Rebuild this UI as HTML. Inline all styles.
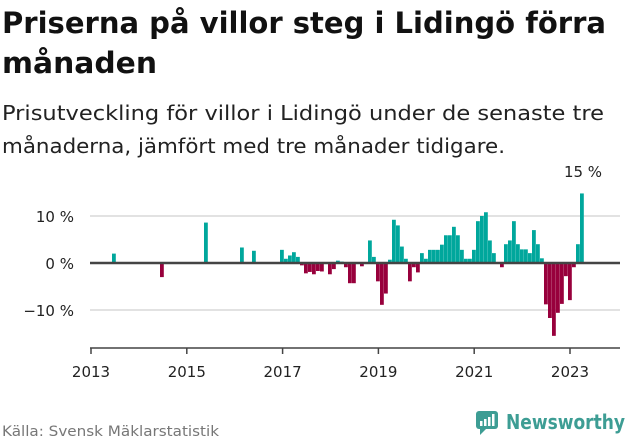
<!DOCTYPE html>
<html><head><meta charset="utf-8"><style>
body{margin:0;width:631px;height:439px;overflow:hidden;background:#fff;font-family:"DejaVu Sans","Liberation Sans",sans-serif;}
svg{position:absolute;left:0;top:0}
</style></head><body>
<svg width="631" height="439">
<text x="2" y="33" font-size="29" font-weight="bold" fill="#111" textLength="604" lengthAdjust="spacingAndGlyphs">Priserna på villor steg i Lidingö förra</text>
<text x="2" y="73" font-size="29" font-weight="bold" fill="#111" textLength="155" lengthAdjust="spacingAndGlyphs">månaden</text>
<text x="2" y="120" font-size="20" fill="#222" textLength="602" lengthAdjust="spacingAndGlyphs">Prisutveckling för villor i Lidingö under de senaste tre</text>
<text x="2" y="153" font-size="20" fill="#222" textLength="503" lengthAdjust="spacingAndGlyphs">månaderna, jämfört med tre månader tidigare.</text>
<g id="grid"></g>
<g id="bars"></g>
<g id="axis"></g>
<text x="583" y="177" font-size="15" fill="#222" text-anchor="middle">15 %</text>
<text x="2" y="436" font-size="14" fill="#777" textLength="217" lengthAdjust="spacingAndGlyphs">Källa: Svensk Mäklarstatistik</text>
<g>
<rect x="476" y="411" width="22" height="18" rx="3" fill="#3d9d94"/>
<polygon points="480,429 486,429 480,435" fill="#3d9d94"/>
<rect x="480" y="421" width="2.5" height="5" fill="#fff"/><rect x="484" y="419" width="2.5" height="7" fill="#fff"/><rect x="488" y="417" width="2.5" height="9" fill="#fff"/><rect x="492" y="414" width="2.5" height="12" fill="#fff"/>
<text x="506" y="429" font-size="20" font-weight="bold" fill="#3d9d94" textLength="119" lengthAdjust="spacingAndGlyphs">Newsworthy</text>
</g>
</svg>
<script>
const months=[6,18,29,38,41,48,49,50,51,52,53,54,55,56,57,58,60,61,62,63,64,65,66,68,70,71,72,73,74,75,76,77,78,79,80,81,82,83,84,85,86,87,88,89,90,91,92,93,94,95,96,97,98,99,100,101,103,104,105,106,107,108,109,110,111,112,113,114,115,116,117,118,119,120,121,122,123];
const values=[2.0,-3.0,8.6,3.3,2.6,2.8,0.9,1.6,2.3,1.3,-0.5,-2.2,-1.9,-2.4,-1.7,-1.8,-2.4,-1.3,0.5,0.3,-0.9,-4.3,-4.3,-0.7,4.8,1.3,-3.9,-8.9,-6.5,0.7,9.2,8.0,3.5,0.9,-3.9,-0.9,-2.0,2.1,0.9,2.8,2.8,2.8,3.9,5.9,5.9,7.7,5.9,2.8,0.9,0.9,2.8,8.9,10.0,10.8,4.8,2.1,-0.9,4.0,4.8,8.9,4.0,2.9,2.9,2.1,7.0,4.0,1.0,-8.8,-11.7,-15.5,-10.6,-8.7,-2.8,-7.9,-0.9,4.0,14.8];
const yTicks=[-10,0,10];
const yTickLabels=["−10 %","0 %","10 %"];
const xYears=[2013,2015,2017,2019,2021,2023];
const NS="http://www.w3.org/2000/svg";
function X(m){return 88+4*m;}
function xYear(y){return 91+(y-2013)*47.9;}
function Y(v){return 263-4.7*v;}
function mk(t,a,p){const e=document.createElementNS(NS,t);for(const k in a)e.setAttribute(k,a[k]);p.appendChild(e);return e;}
const grid=document.getElementById('grid'),bars=document.getElementById('bars'),axis=document.getElementById('axis');
yTicks.forEach((t,i)=>{
 if(t!==0){const l=mk('line',{x1:90,x2:620,y1:Y(t),y2:Y(t),stroke:'#e2e2e2','stroke-width':2},grid);
 
 }
 const tx=mk('text',{x:74,y:Y(t)+6,'font-size':15,fill:'#222','text-anchor':'end'},grid);
 tx.textContent=yTickLabels[i];
 
 
});
months.forEach((m,i)=>{
 const v=values[i];
 const r=mk('rect',{x:X(m),width:3.8,y:Math.min(Y(v),Y(0)),height:Math.abs(Y(v)-Y(0)),fill:v>=0?'#00a79c':'#98003c'},bars);
 
 
});
const z=mk('line',{x1:90,x2:620,y1:Y(0),y2:Y(0),stroke:'#444','stroke-width':2.5},axis);


const xa=mk('line',{x1:90,x2:620,y1:348,y2:348,stroke:'#444','stroke-width':1.5},axis);


xYears.forEach(y=>{
 const t=mk('line',{x1:xYear(y),x2:xYear(y),y1:348,y2:354,stroke:'#444','stroke-width':1.5},axis);
 
 
 const l=mk('text',{x:xYear(y),y:377,'font-size':15,fill:'#222','text-anchor':'middle'},axis);
 l.textContent=y;
 
 
});
</script>
</body></html>
